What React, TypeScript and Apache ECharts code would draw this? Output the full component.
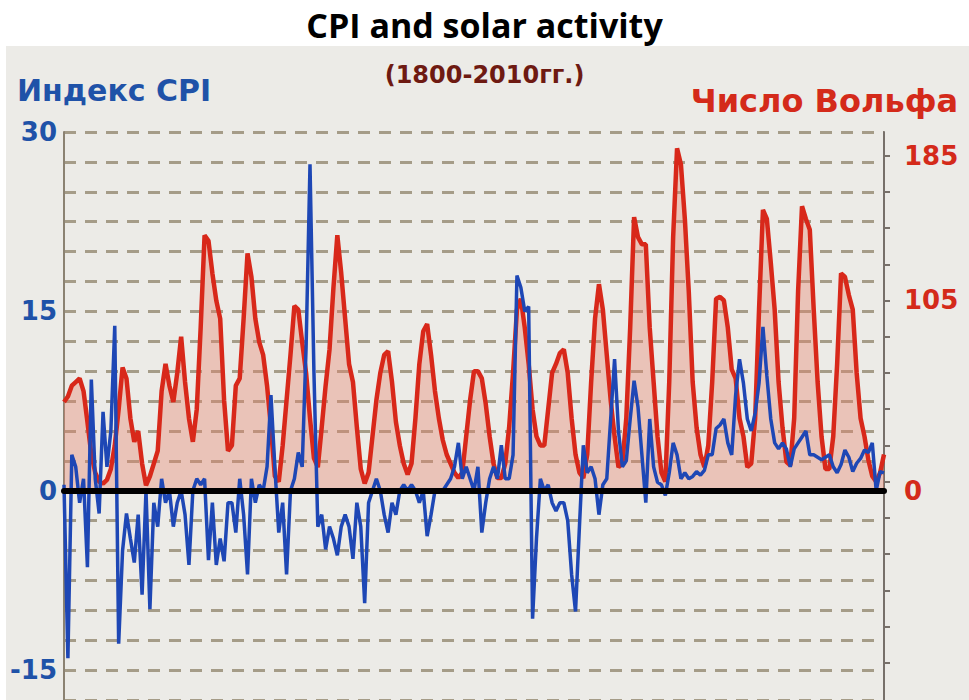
import React, { useEffect, useRef } from "react";
import * as echarts from "echarts";

// Years 1800..2010
const years: string[] = Array.from({ length: 211 }, (_, i) => String(1800 + i));

// Wolf (sunspot) number, 1800..2010
const wolf: number[] = [
  49, 52, 58, 60, 62, 55, 38, 20, 10, 5,
  4, 6, 12, 25, 45, 68, 62, 40, 27, 33,
  15, 3, 8, 15, 22, 55, 70, 58, 49, 65,
  85, 60, 40, 27, 45, 90, 141, 138, 120, 105,
  95, 50, 22, 25, 58, 62, 95, 131, 118, 95,
  82, 75, 58, 35, 8, 5, 25, 50, 75, 102,
  100, 82, 65, 40, 18, 13, 35, 58, 78, 112,
  141, 120, 95, 70, 60, 35, 12, 4, 10, 30,
  50, 65, 75, 77, 60, 38, 25, 15, 9, 15,
  40, 70, 88, 92, 75, 55, 40, 28, 20, 15,
  10, 7, 10, 30, 50, 66, 66, 62, 48, 30,
  15, 7, 7, 15, 35, 65, 100, 106, 90, 70,
  45, 30, 25, 25, 45, 65, 70, 76, 78, 65,
  40, 20, 10, 7, 20, 60, 95, 114, 100, 75,
  50, 30, 13, 15, 40, 90, 151, 140, 136, 136,
  90, 60, 30, 10, 5, 60, 140, 189, 180, 150,
  110, 60, 35, 20, 13, 25, 60, 106, 107, 105,
  90, 67, 62, 40, 30, 13, 15, 40, 100, 155,
  150, 126, 100, 60, 35, 16, 14, 40, 110, 157,
  150, 144, 100, 60, 30, 12, 12, 30, 70, 120,
  118, 108, 100, 65, 40, 30, 17, 8, 5, 10, 20,
];

// CPI index (annual change, %), 1800..2010
const cpi: number[] = [
  0.5, -14, 3, 2, -1, 1, -6.4, 9.3, 1, -1.9,
  6.6, 2, 5, 13.8, -12.8, -5, -1.9, -4, -6, -2,
  -8.7, 0, -9.9, -1, -3, 1, -1, 0, -3, -1,
  0, -2, -6.2, 0, 1, 0.5, 1, -5.8, -1, -6.2,
  -4, -5.9, -1, -1, -3.5, 1, -2, -7, 1, -1,
  0.5, 0, 2, 8, 2, -3.5, -1, -7, 0, 1,
  3.2, 2, 12, 27.3, 10, -3, -2, -4.9, -3, -4,
  -5.4, -3, -2, -3, -5.7, -1, -3, -9.4, -1, 0,
  1, 0, -2, -3.5, -1, -2, 0, 0.5, 0, 0.5,
  0, -1, 0, -3.8, -2, 0, 0, 0, 0.5, 1,
  2, 4, 1, 2, 1, 0, 2, -3.5, -1, 1,
  2, 1, 3.8, 1, 1, 3, 18, 17, 15, 15.4,
  -10.7, -4, 1, 0, 0.5, -1, -1.7, -1, -1, -2.5,
  -7, -10.1, -3, 3.8, 1.5, 2, 1, -2, 0.5, 1,
  6, 11, 5, 2, 2.5, 6, 9.2, 7, 3, -1,
  6, 2, 0.7, 0.5, -0.4, 1.5, 4, 3, 1, 1.5,
  1, 1.2, 1.6, 1.3, 1.7, 3, 3, 5.2, 5.5, 6,
  4, 3, 8, 11, 9, 6, 5, 6.5, 9, 13.7,
  9.6, 6, 4, 3.5, 4, 3.5, 2, 3.5, 4, 4.5,
  5, 3, 3, 2.8, 2.6, 2.8, 3, 2, 1.5, 2.2,
  3.4, 2.8, 1.6, 2.3, 2.7, 3.4, 3.2, 4, 0, 1.6, 1.5,
];

const leftLabels: number[] = [-15, 0, 15, 30];
const rightLabels: number[] = [0, 105, 185];
const rightTicks: number[] = [185, 165, 145, 125, 105, 85, 65, 45, 25, 5, -15, -35, -55, -75, -95];

const BLUE = "#1f52a8";
const RED = "#d42a1a";

export default function App() {
  const ref = useRef<HTMLDivElement>(null);

  useEffect(() => {
    document.body.style.margin = "0";
    if (!ref.current) return;
    const chart = echarts.init(ref.current, undefined, { renderer: "svg" });
    const option: any = {
      animation: false,
      backgroundColor: "#ffffff",
      title: [
        {
          text: "CPI and solar activity",
          left: "center",
          top: 3,
          textStyle: { fontFamily: "Open Sans", fontWeight: 700, fontSize: 34, color: "#000" },
        },
        {
          text: "(1800-2010гг.)",
          left: "center",
          top: 58,
          textStyle: { fontFamily: "DejaVu Sans", fontWeight: "bold", fontSize: 24, color: "#6e1a12" },
        },
      ],
      graphic: [
        {
          type: "rect",
          silent: true,
          z: -100,
          shape: { x: 6, y: 46, width: 963, height: 654 },
          style: { fill: "#ecebe7" },
        },
        {
          type: "text",
          x: 17,
          y: 90,
          z: 10,
          style: {
            text: "Индекс CPI",
            fill: BLUE,
            fontFamily: "DejaVu Sans",
            fontWeight: "bold",
            fontSize: 30,
            align: "left",
            verticalAlign: "middle",
          },
        },
        {
          type: "text",
          x: 958,
          y: 101,
          z: 10,
          style: {
            text: "Число Вольфа",
            fill: RED,
            fontFamily: "DejaVu Sans",
            fontWeight: "bold",
            fontSize: 32,
            align: "right",
            verticalAlign: "middle",
          },
        },
      ],
      grid: { left: 64, right: 85, top: 132, bottom: -9 },
      xAxis: {
        type: "category",
        data: years,
        boundaryGap: false,
        z: 5,
        axisLine: { show: true, onZero: true, lineStyle: { color: "#000", width: 6 } },
        axisTick: { show: false },
        axisLabel: { show: false },
        splitLine: { show: false },
      },
      yAxis: [
        {
          type: "value",
          position: "left",
          min: -17.5,
          max: 30,
          interval: 2.5,
          axisLine: { show: true, lineStyle: { color: "#8b8272", width: 2 } },
          axisTick: { show: false },
          axisLabel: {
            formatter: (v: number) => (leftLabels.indexOf(v) >= 0 ? String(v) : ""),
            color: BLUE,
            fontFamily: "DejaVu Sans",
            fontWeight: "bold",
            fontSize: 26,
            margin: 7,
          },
          splitLine: { show: true, lineStyle: { type: [12, 9], color: "#a59c88", width: 3 } },
        },
        {
          type: "value",
          position: "right",
          min: -115.5,
          max: 198,
          axisLine: { show: true, lineStyle: { color: "#77706a", width: 2 } },
          axisTick: { show: true, customValues: rightTicks, length: 6, lineStyle: { color: "#77706a", width: 2 } },
          axisLabel: {
            customValues: rightLabels,
            color: RED,
            fontFamily: "DejaVu Sans",
            fontWeight: "bold",
            fontSize: 26,
            margin: 20,
          },
          splitLine: { show: false },
        },
      ],
      series: [
        {
          name: "Число Вольфа",
          type: "line",
          yAxisIndex: 1,
          data: wolf,
          symbol: "none",
          z: 2,
          lineStyle: { color: "#d8281a", width: 4.5 },
          areaStyle: { color: "rgba(232,130,108,0.55)" },
        },
        {
          name: "Индекс CPI",
          type: "line",
          yAxisIndex: 0,
          data: cpi,
          symbol: "none",
          z: 3,
          lineStyle: { color: "#1e47b5", width: 3.5 },
        },
      ],
    };
    chart.setOption(option);
    return () => chart.dispose();
  }, []);

  return (
    <div
      ref={ref}
      style={{ position: "absolute", left: 0, top: 0, width: 969, height: 700 }}
    />
  );
}
